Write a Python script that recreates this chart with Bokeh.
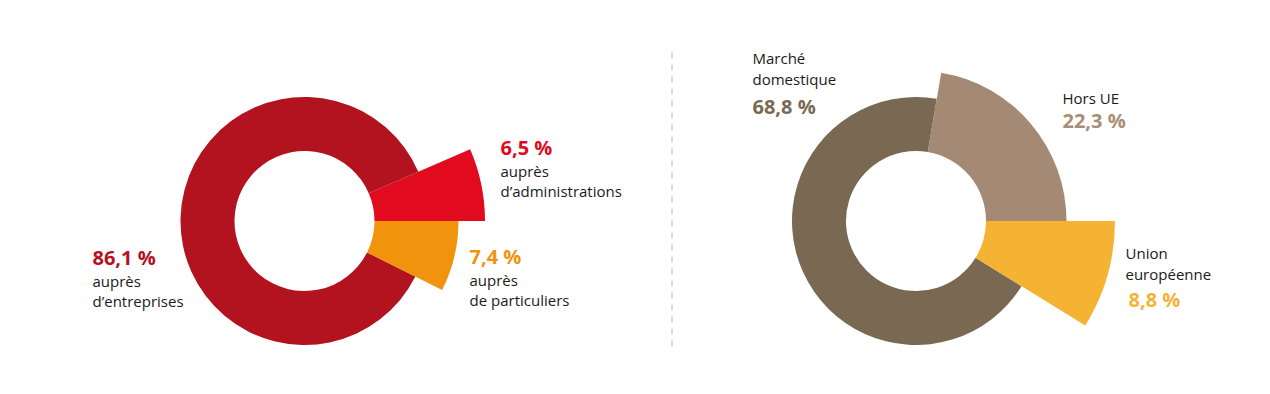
import numpy as np
from bokeh.plotting import figure
from bokeh.models import Range1d, ColumnDataSource
from bokeh.core.properties import value
from bokeh.embed import file_html
from bokeh.resources import INLINE

# ---- data (counter-clockwise order starting at 3 o'clock) ----
left_categories = ["auprès d’administrations", "auprès d’entreprises", "auprès de particuliers"]
left_values = [6.5, 86.1, 7.4]
right_categories = ["Hors UE", "Marché domestique", "Union européenne"]
right_values = [22.3, 68.8, 8.8]

# ---- styles ----
left_colors = ["#E10A1F", "#B3121F", "#F2930E"]
left_outer = [180.5, 124, 154]
right_colors = ["#A48A75", "#7A6952", "#F5B333"]
right_outer = [150.5, 124, 199]
INNER = 70
FONT = "Open Sans"
TXT = "#1a1a1a"
DY = -8  # vertical text correction

W, H = 1254, 378
p = figure(width=W, height=H, output_backend="svg", toolbar_location=None,
           x_range=Range1d(0, W), y_range=Range1d(-H, 0),
           min_border=0, outline_line_color=None)
p.axis.visible = False
p.grid.visible = False
p.background_fill_color = "white"
p.border_fill_color = "white"


def donut(cx, cy, vals, colors, outers):
    v = np.array(vals, dtype=float)
    frac = v / v.sum() * 2 * np.pi
    ends = np.cumsum(frac)
    starts = ends - frac
    src = ColumnDataSource(dict(x=[cx] * len(v), y=[-cy] * len(v), start=starts, end=ends,
                                outer=outers, color=colors))
    p.annular_wedge(x="x", y="y", inner_radius=INNER, outer_radius="outer",
                    start_angle="start", end_angle="end", color="color",
                    line_color=None, source=src)


donut(304, 220.5, left_values, left_colors, left_outer)
donut(915.5, 220.5, right_values, right_colors, right_outer)

# separator
p.segment(x0=[671.5], y0=[-52], x1=[671.5], y1=[-346], line_color="#b5b5b5",
          line_width=1, line_dash="6 6")


def fmt(v):
    return f"{v:.1f}".replace(".", ",") + " %"


def label(x, y, txt, color=TXT, size="15px", bold=False):
    p.text(x=[x], y=[-(y + DY)], text=[txt], text_font=value(FONT), text_font_size=size,
           text_font_style="bold" if bold else "normal", text_color=color,
           text_align="left", text_baseline="alphabetic")


NUM = "20px"
# left labels
label(92, 264.5, fmt(left_values[1]), left_colors[1], NUM, True)
label(92, 288, "auprès")
label(92, 308.5, "d’entreprises")

label(500, 154.5, fmt(left_values[0]), left_colors[0], NUM, True)
label(500, 178, "auprès")
label(500, 198.5, "d’administrations")

label(469, 263.5, fmt(left_values[2]), left_colors[2], NUM, True)
label(469, 287, "auprès")
label(469, 307.5, "de particuliers")

# right labels
label(752, 65, "Marché")
label(752, 86.5, "domestique")
label(752, 113.5, fmt(right_values[1]), right_colors[1], NUM, True)

label(1062, 105.5, "Hors UE")
label(1062, 127.5, fmt(right_values[0]), "#A88C78", NUM, True)

label(1125, 260.5, "Union")
label(1125, 281.5, "européenne")
label(1128, 307, fmt(right_values[2]), right_colors[2], NUM, True)

open("out.html", "w").write(file_html(p, INLINE))
